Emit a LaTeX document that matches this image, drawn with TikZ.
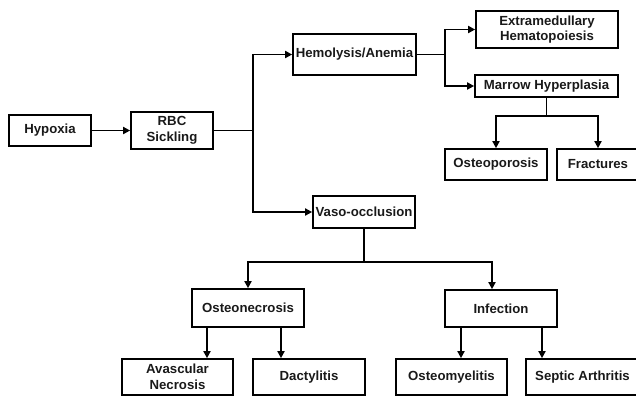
\documentclass[tikz,border=0pt]{standalone}
\usepackage{fontspec}
\setmainfont{Liberation Sans}
\usetikzlibrary{arrows.meta}
\begin{document}
\begin{tikzpicture}[x=1pt,y=-1pt,
  box/.style={draw=black, line width=1.7pt, inner sep=0pt, align=center,
    font=\fontsize{13.2}{15.5}\selectfont\bfseries, text=black!90},
  arr/.style={line width=1.7pt, -{Triangle[length=7pt,width=7pt]}},
  ln/.style={line width=1.7pt}]
\useasboundingbox (0,0) rectangle (636,397);
% nodes
\node[box, minimum width=82pt, minimum height=31pt] (hyp) at (50,130.5) {Hypoxia};
\node[box, minimum width=82pt, minimum height=37pt] (rbc) at (172,130.5) {RBC\\Sickling};
\node[box, minimum width=123pt, minimum height=41pt] (hemo) at (354.5,54.5) {Hemolysis/Anemia};
\node[box, minimum width=142pt, minimum height=37pt] (extra) at (547,29.5) {Extramedullary\\Hematopoiesis};
\node[box, minimum width=143pt, minimum height=22pt] (marrow) at (546.5,86) {Marrow Hyperplasia};
\node[box, minimum width=102pt, minimum height=31pt] (osteop) at (496,164.5) {Osteoporosis};
\node[box, minimum width=82pt, minimum height=31pt] (fract) at (598,164.5) {Fractures};
\node[box, minimum width=102pt, minimum height=32pt] (vaso) at (364,212) {Vaso-occlusion};
\node[box, minimum width=112pt, minimum height=38pt] (osteon) at (248,308) {Osteonecrosis};
\node[box, minimum width=112pt, minimum height=37pt] (infect) at (501,308.5) {Infection};
\node[box, minimum width=111pt, minimum height=36pt] (avasc) at (177.5,377) {Avascular\\Necrosis};
\node[box, minimum width=112pt, minimum height=36pt] (dact) at (309,377) {Dactylitis};
\node[box, minimum width=111pt, minimum height=36pt] (osteom) at (451.5,377) {Osteomyelitis};
\node[box, minimum width=113pt, minimum height=36pt] (septic) at (582.5,377) {Septic Arthritis};
% connectors
\draw[arr] (hyp) -- (rbc);
\coordinate (j1) at (253,130.5);
\draw[ln] (rbc.east) -- (j1);
\draw[arr] (j1) |- (hemo.west);
\draw[arr] (j1) |- (vaso.west);
\coordinate (j2) at (445,54.5);
\draw[ln] (hemo.east) -- (j2);
\draw[arr] (j2) |- (extra.west);
\draw[arr] (j2) |- (marrow.west);
\coordinate (j3) at (546.5,116);
\draw[ln] (marrow.south) -- (j3);
\draw[arr] (j3) -| (osteop.north);
\draw[arr] (j3) -| (fract.north);
\coordinate (j4) at (364,262);
\draw[ln] (vaso.south) -- (j4);
\draw[arr] (j4) -| (osteon.north);
\coordinate (i1) at ([xshift=-9pt]infect.north);
\draw[arr] (j4) -| (i1);
\coordinate (a1) at ([xshift=-41pt]osteon.south);
\coordinate (a2) at ([xshift=33pt]osteon.south);
\draw[arr] (a1) -- (a1 |- avasc.north);
\draw[arr] (a2) -- (a2 |- dact.north);
\coordinate (b1) at ([xshift=-40pt]infect.south);
\coordinate (b2) at ([xshift=41pt]infect.south);
\draw[arr] (b1) -- (b1 |- osteom.north);
\draw[arr] (b2) -- (b2 |- septic.north);
\end{tikzpicture}
\end{document}
